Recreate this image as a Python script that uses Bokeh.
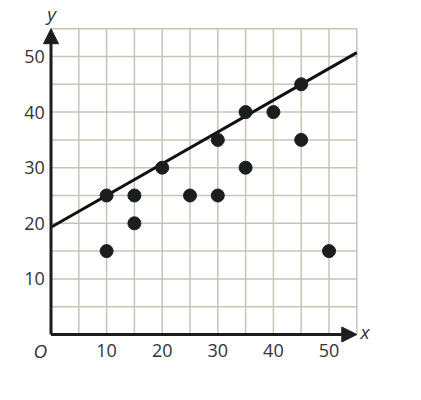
from bokeh.plotting import figure
from bokeh.models import Arrow, NormalHead, ColumnDataSource
from bokeh.core.properties import value
from bokeh.embed import file_html
from bokeh.resources import INLINE

# data
xs = [10, 10, 15, 15, 20, 25, 30, 30, 35, 35, 40, 45, 45, 50]
ys = [25, 15, 25, 20, 30, 25, 35, 25, 40, 30, 40, 45, 35, 15]
line_x = [0, 55]
line_y = [19.3, 50.7]
x_ticks = [10, 20, 30, 40, 50]
y_ticks = [10, 20, 30, 40, 50]
x_labels = ["10", "20", "30", "40", "50"]
y_labels = ["10", "20", "30", "40", "50"]
grid_ticks = list(range(5, 60, 5))
grid_max = 55

INK = "#1a1f1c"
GRID = "#c9c3b6"
FONT = "Open Sans"
LABEL = "#333333"

s = 5.56
W, H = 413, 392
p = figure(width=W, height=H, output_backend="svg", toolbar_location=None,
           x_range=((0 - 50.5) / s, (W - 50.5) / s),
           y_range=((334 - H) / s, (334 - 0) / s),
           min_border=0)
p.outline_line_color = None
p.xaxis.visible = False
p.yaxis.visible = False
p.xgrid.visible = False
p.ygrid.visible = False

# grid
n = len(grid_ticks)
p.segment(x0=grid_ticks, y0=[0] * n, x1=grid_ticks, y1=[grid_max] * n,
          line_color=GRID, line_width=1.5)
p.segment(x0=[0] * n, y0=grid_ticks, x1=[grid_max] * n, y1=grid_ticks,
          line_color=GRID, line_width=1.5)

# regression line
p.line(line_x, line_y, line_width=3, color="#111111")

# points
p.scatter(xs, ys, size=13, color=INK)

# axes with arrows
p.add_layout(Arrow(end=NormalHead(size=15, fill_color=INK, line_color=INK),
                   x_start=0, y_start=0, x_end=55, y_end=0,
                   line_width=3, line_color=INK))
p.add_layout(Arrow(end=NormalHead(size=15, fill_color=INK, line_color=INK),
                   x_start=0, y_start=0, x_end=0, y_end=55,
                   line_width=3, line_color=INK))

# tick labels
xsrc = ColumnDataSource(dict(x=x_ticks, y=[-2.8] * len(x_ticks), t=x_labels))
p.text("x", "y", text="t", source=xsrc, text_align="center", text_baseline="middle",
       text_font=value(FONT), text_font_size="18px", text_color=LABEL)
ysrc = ColumnDataSource(dict(x=[-1.1] * len(y_ticks), y=y_ticks, t=y_labels))
p.text("x", "y", text="t", source=ysrc, text_align="right", text_baseline="middle",
       text_font=value(FONT), text_font_size="18px", text_color=LABEL)

# axis names
p.text(x=[-1.9], y=[-2.9], text=["O"], text_align="center", text_baseline="middle",
       text_font=value(FONT), text_font_size="19px", text_font_style="italic",
       text_color=LABEL)
p.text(x=[0.1], y=[57.6], text=["y"], text_align="center", text_baseline="middle",
       text_font=value(FONT), text_font_size="19px", text_font_style="italic",
       text_color=LABEL)
p.text(x=[56.5], y=[0.4], text=["x"], text_align="center", text_baseline="middle",
       text_font=value(FONT), text_font_size="19px", text_font_style="italic",
       text_color=LABEL)

open("out.html", "w").write(file_html(p, INLINE))
